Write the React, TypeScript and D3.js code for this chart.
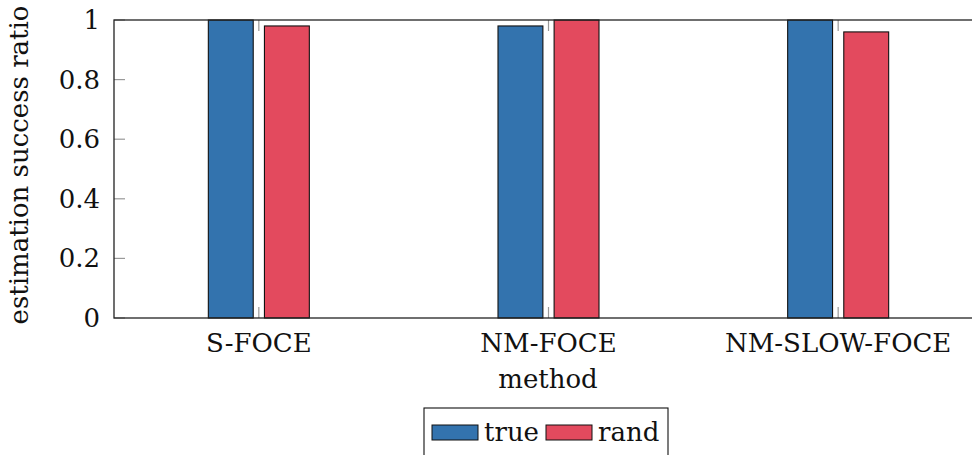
import * as d3 from 'd3';

const methods = ['S-FOCE', 'NM-FOCE', 'NM-SLOW-FOCE'];
const seriesNames = ['true', 'rand'];
const trueValues = [1, 0.98, 1];
const randValues = [0.98, 1, 0.96];
const yTicks = [0, 0.2, 0.4, 0.6, 0.8, 1];

const colors: Record<string, string> = { true: '#3373ae', rand: '#e34a5e' };
const font = 'DejaVu Serif';

export default function App() {
  const width = 972;
  const height = 455;
  const m = { left: 114, right: 983, top: 20, bottom: 318 };
  const tickLen = 11;

  const x = d3.scaleBand<string>().domain(methods).range([m.left, m.right]);
  const inner = d3.scaleBand<string>().domain(seriesNames).range([-50.5, 50.5]).paddingInner(0.2);
  const y = d3.scaleLinear().domain([0, 1]).range([m.bottom, m.top]);

  const rows = methods.map((name, i) => ({ name, true: trueValues[i], rand: randValues[i] }));
  const cx = (c: string) => x(c)! + x.bandwidth() / 2;

  return (
    <svg width={width} height={height} style={{ position: 'absolute', left: 0, top: 0, background: '#fff' }}>
      {/* bars */}
      {rows.map((r) =>
        seriesNames.map((s) => {
          const v = (r as any)[s] as number;
          return (
            <rect
              key={r.name + s}
              x={cx(r.name) + inner(s)!}
              y={y(v)}
              width={inner.bandwidth()}
              height={y(0) - y(v)}
              fill={colors[s]}
              stroke="#111"
              strokeWidth={1.1}
            />
          );
        }),
      )}

      {/* y ticks, left and right, inward */}
      {yTicks.map((t) => (
        <g key={t}>
          <line x1={m.left} x2={m.left + tickLen} y1={y(t)} y2={y(t)} stroke="#999" strokeWidth={1.2} />
          <line x1={m.right - tickLen} x2={m.right} y1={y(t)} y2={y(t)} stroke="#999" strokeWidth={1.2} />
          <text x={100} y={y(t) + 9} textAnchor="end" fontFamily={font} fontSize={26} fill="#111">
            {d3.format('~g')(t)}
          </text>
        </g>
      ))}

      {/* x ticks, bottom and top, inward */}
      {methods.map((c) => (
        <g key={c}>
          <line x1={cx(c)} x2={cx(c)} y1={m.bottom} y2={m.bottom - tickLen} stroke="#999" strokeWidth={1.2} />
          <line x1={cx(c)} x2={cx(c)} y1={m.top} y2={m.top + tickLen} stroke="#999" strokeWidth={1.2} />
          <text x={cx(c)} y={352} textAnchor="middle" fontFamily={font} fontSize={26} fill="#111">
            {c}
          </text>
        </g>
      ))}

      {/* axis frame */}
      <rect
        x={m.left}
        y={m.top}
        width={m.right - m.left}
        height={m.bottom - m.top}
        fill="none"
        stroke="#222"
        strokeWidth={1.3}
      />

      {/* axis titles */}
      <text x={548} y={388} textAnchor="middle" fontFamily={font} fontSize={26} fill="#111">
        method
      </text>
      <text
        transform={`translate(28,${(m.top + m.bottom) / 2 - 4}) rotate(-90)`}
        textAnchor="middle"
        fontFamily={font}
        fontSize={26}
        fill="#111"
      >
        estimation success ratio
      </text>

      {/* legend */}
      <g>
        <rect x={424} y={408} width={244} height={60} fill="#fff" stroke="#111" strokeWidth={1.1} />
        {seriesNames.map((s, i) => {
          const lx = i === 0 ? 432 : 546;
          return (
            <g key={s}>
              <rect x={lx} y={425} width={46} height={15} fill={colors[s]} stroke="#111" strokeWidth={1} />
              <text x={lx + 52} y={441} fontFamily={font} fontSize={26} fill="#111">
                {s}
              </text>
            </g>
          );
        })}
      </g>
    </svg>
  );
}
